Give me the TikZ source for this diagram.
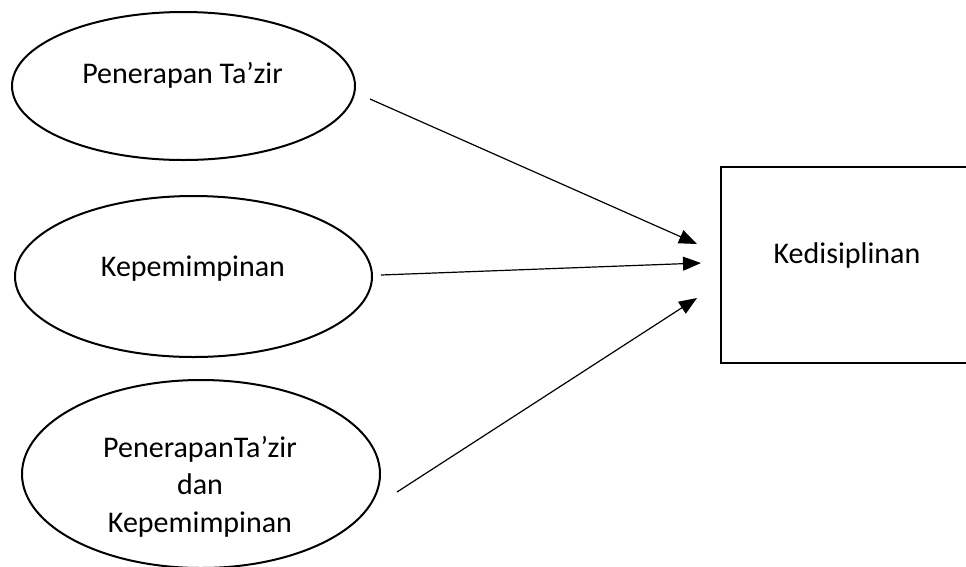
\documentclass[tikz,border=0pt]{standalone}
\usepackage{fontspec}
\setmainfont{Carlito}
\usetikzlibrary{shapes.geometric,arrows.meta}
\begin{document}
\begin{tikzpicture}[x=1pt,y=-1pt,
  oval/.style={ellipse,draw,line width=2pt,inner sep=0pt},
  caption/.style={font=\fontsize{30}{37.5}\selectfont,anchor=base,inner sep=0pt,align=center},
  link/.style={line width=1.2pt,-{Triangle[length=18pt,width=14pt]}}]
\useasboundingbox (0,0) rectangle (966,566);

% independent variables
\node[oval,minimum width=343pt,minimum height=148pt] (e1) at (183.5,86) {};
\node[oval,minimum width=357pt,minimum height=161pt] (e2) at (193.5,276.5) {};
\node[oval,minimum width=358pt,minimum height=188pt] (e3) at (201,474) {};

\node[caption] (t1) at (182.5,83) {Penerapan Ta’zir};
\node[caption] (t2) at (193,276) {Kepemimpinan};
% base of a multi-line caption is its last line
\node[caption] (t3) at (200,532) {PenerapanTa’zir\\dan\\Kepemimpinan};

% dependent variable, running past the right edge
\node[draw,line width=2pt,inner sep=0pt,anchor=north west,
      minimum width=320pt,minimum height=196pt] (kd) at (720,166) {};
\node[caption] (t4) at (847,263) {Kedisiplinan};

% arrow ends
\coordinate (s1) at (370,99);
\coordinate (s2) at (381,275);
\coordinate (s3) at (397,492);
\coordinate (h1) at (697,244);
\coordinate (h2) at (701,263);
\coordinate (h3) at (697,298);

\draw[link] (s1) -- (h1);
\draw[link] (s2) -- (h2);
\draw[link] (s3) -- (h3);
\end{tikzpicture}
\end{document}
